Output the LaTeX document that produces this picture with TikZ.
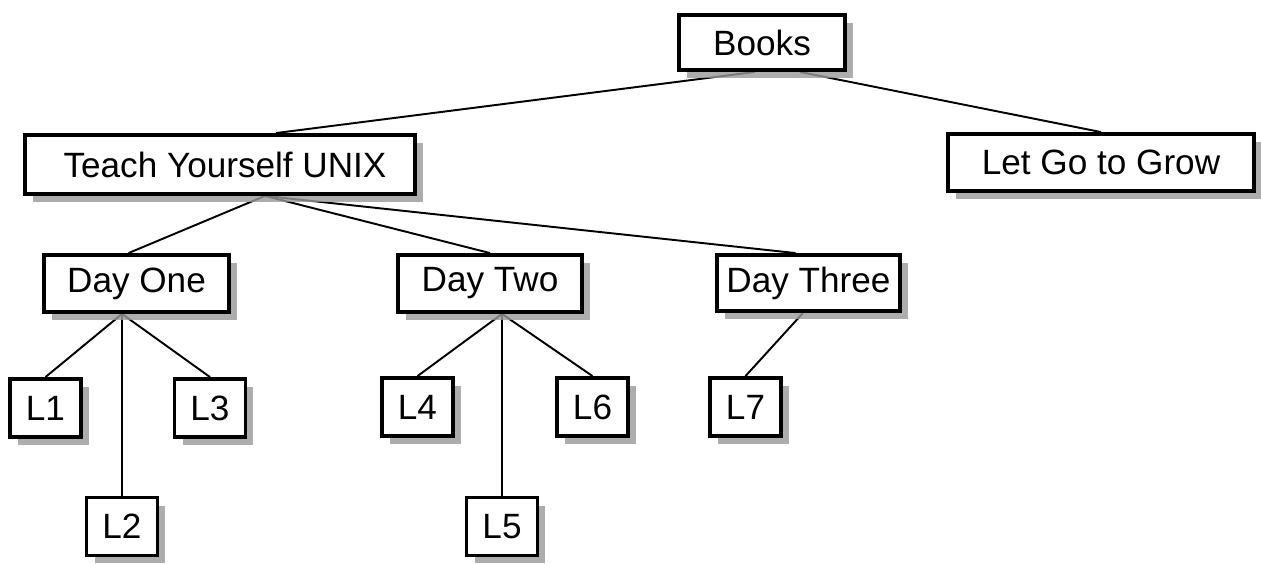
\documentclass[tikz,border=0pt]{standalone}
\usepackage{fontspec}
\setmainfont{Liberation Sans}
\usepackage{tikz}
\usetikzlibrary{shadows,calc,backgrounds}

\begin{document}
\begin{tikzpicture}[x=0.02cm, y=-0.02cm]
	\tikzstyle{node} = [draw, line width=2.2pt, fill=white, inner sep=0pt, font=\fontsize{20}{23}\selectfont,
		drop shadow={shadow xshift=0.16cm, shadow yshift=-0.16cm, fill=black!40, opacity=0.8}]
	\tikzstyle{leaf} = [node, minimum width=1.42cm, minimum height=1.16cm]
	\tikzstyle{link} = [line width=1.1pt]

	\useasboundingbox (0,0) rectangle (1261,564);

	\draw (762,42.5) node[node, minimum width=3.32cm, minimum height=1.10cm] (n1) {Books};

	\draw (220,164.5) node[node, minimum width=7.80cm, minimum height=1.18cm] (n11) {\hspace{0.2cm}Teach Yourself UNIX};
	\draw (1101,162.5) node[node, minimum width=6.12cm, minimum height=1.14cm] (n12) {Let Go to Grow};

	\draw (136.5,283.5) node[node, minimum width=3.70cm, minimum height=1.14cm] (n111) {Day One};
	\draw (490,283.5) node[node, minimum width=3.68cm, minimum height=1.14cm] (n112) {Day Two};
	\draw (808.5,283) node[node, minimum width=3.66cm, minimum height=1.12cm] (n113) {Day Three};

	\draw (45.5,408) node[leaf] (n1111) {L1};
	\draw (122,526.5) node[leaf] (n1112) {L2};
	\draw (210,408) node[leaf] (n1113) {L3};

	\draw (417.5,407) node[leaf] (n1121) {L4};
	\draw (502,526.5) node[leaf] (n1122) {L5};
	\draw (592.5,407) node[leaf] (n1123) {L6};

	\draw (745.5,407) node[leaf] (n1131) {L7};

	\begin{scope}[on background layer]
	\draw[link] ($(n1.south)+(-7,0)$) -- ($(n11.north)+(56,0)$);
	\draw[link] ($(n1.south)+(38,0)$) -- (n12.north);

	\draw[link] ($(n11.south)+(45,0)$) -- ($(n111.north)+(-8,0)$);
	\draw[link] ($(n11.south)+(45,0)$) -- (n112.north);
	\draw[link] ($(n11.south)+(45,0)$) -- ($(n113.north)+(-13,0)$);

	\draw[link] ($(n111.south)+(-14.5,0)$) -- (n1111.north);
	\draw[link] ($(n111.south)+(-14.5,0)$) -- (n1112.north);
	\draw[link] ($(n111.south)+(-14.5,0)$) -- (n1113.north);

	\draw[link] ($(n112.south)+(12,0)$) -- (n1121.north);
	\draw[link] ($(n112.south)+(12,0)$) -- (n1122.north);
	\draw[link] ($(n112.south)+(12,0)$) -- (n1123.north);

	\draw[link] ($(n113.south)+(-5.5,0)$) -- (n1131.north);
	\end{scope}
\end{tikzpicture}
\end{document}
